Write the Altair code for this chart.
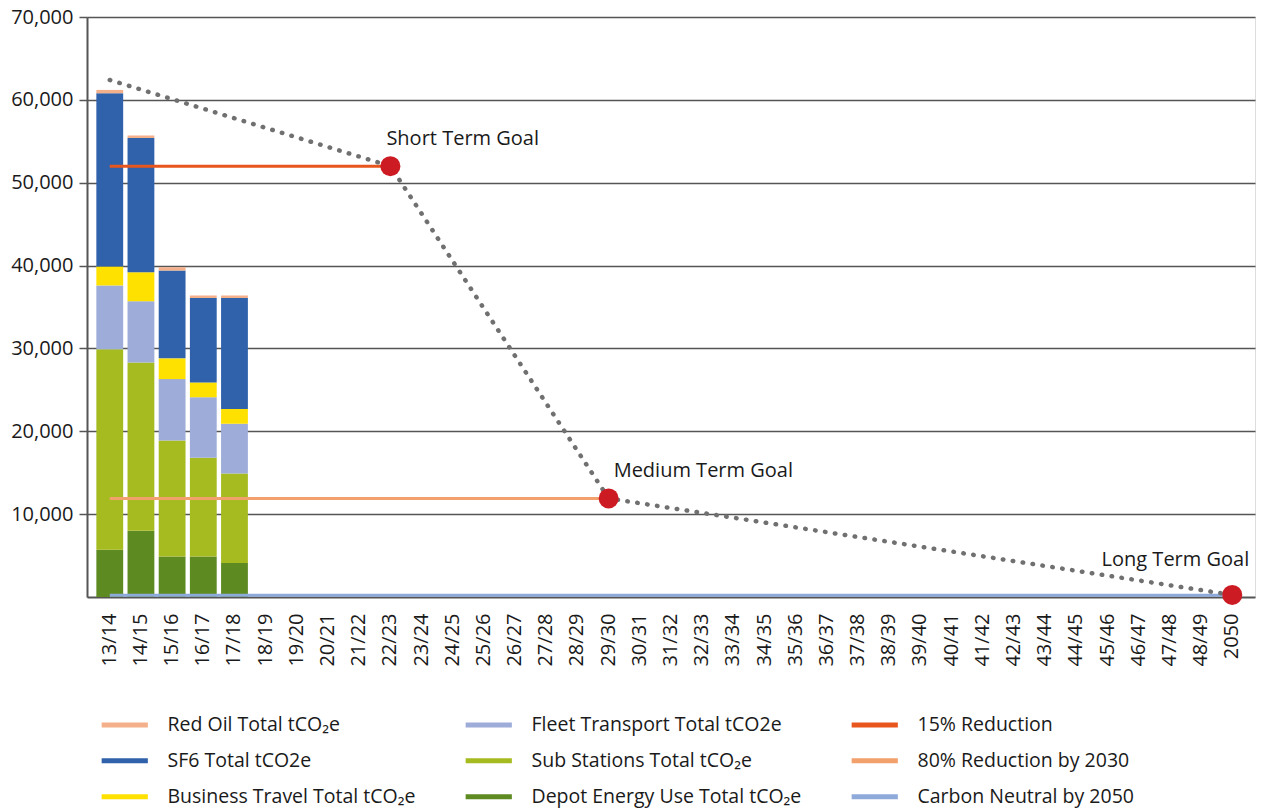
import altair as alt
import pandas as pd

# ---------------- data ----------------
categories = ["13/14", "14/15", "15/16", "16/17", "17/18", "18/19", "19/20", "20/21",
              "21/22", "22/23", "23/24", "24/25", "25/26", "26/27", "27/28", "28/29",
              "29/30", "30/31", "31/32", "32/33", "33/34", "34/35", "35/36", "36/37",
              "37/38", "38/39", "39/40", "40/41", "41/42", "42/43", "43/44", "44/45",
              "45/46", "46/47", "47/48", "48/49", "2050"]

bar_years = ["13/14", "14/15", "15/16", "16/17", "17/18"]
depot_energy = [5700, 8000, 4900, 4900, 4100]
sub_stations = [24200, 20300, 14000, 11900, 10800]
fleet_transport = [7700, 7400, 7400, 7300, 6000]
business_travel = [2300, 3500, 2500, 1800, 1800]
sf6 = [20900, 16200, 10600, 10200, 13400]
red_oil = [400, 300, 400, 300, 300]

# stacking order, bottom to top
bar_series = ["Depot Energy Use Total tCO\u2082e", "Sub Stations Total tCO\u2082e",
              "Fleet Transport Total tCO2e", "Business Travel Total tCO\u2082e",
              "SF6 Total tCO2e", "Red Oil Total tCO\u2082e"]
bar_values = [depot_energy, sub_stations, fleet_transport, business_travel, sf6, red_oil]

target_names = ["15% Reduction", "80% Reduction by 2030", "Carbon Neutral by 2050"]
target_levels = [52000, 11900, 200]
target_start = ["13/14", "13/14", "13/14"]
target_end = ["22/23", "29/30", "2050"]

trend_years = ["13/14", "22/23", "29/30", "2050"]
trend_values = [62400, 52000, 11900, 250]

goal_names = ["Short Term Goal", "Medium Term Goal", "Long Term Goal"]
goal_years = ["22/23", "29/30", "2050"]
goal_values = [52000, 11900, 250]

# legend (filled column by column in a 3-column grid)
legend_order = ["Red Oil Total tCO\u2082e", "SF6 Total tCO2e", "Business Travel Total tCO\u2082e",
                "Fleet Transport Total tCO2e", "Sub Stations Total tCO\u2082e",
                "Depot Energy Use Total tCO\u2082e",
                "15% Reduction", "80% Reduction by 2030", "Carbon Neutral by 2050"]
legend_colors = ["#F4B08A", "#2F62AB", "#FFE100",
                 "#9DACD8", "#A6BB1F", "#5E8A22",
                 "#E8561E", "#F2A06C", "#8DAADA"]

# ---------------- tables ----------------
bar_rows = []
for k, (name, vals) in enumerate(zip(bar_series, bar_values)):
    for yr, v in zip(bar_years, vals):
        bar_rows.append({"year": yr, "series": name, "value": v, "stack": k})
bars_df = pd.DataFrame(bar_rows)

target_rows = []
for name, lvl, s, e in zip(target_names, target_levels, target_start, target_end):
    target_rows.append({"year": s, "series": name, "value": lvl})
    target_rows.append({"year": e, "series": name, "value": lvl})
target_df = pd.DataFrame(target_rows)

trend_df = pd.DataFrame({"year": trend_years, "value": trend_values})
goal_df = pd.DataFrame({"year": goal_years, "value": goal_values, "goal": goal_names})

# ---------------- encodings ----------------
FONT = "Open Sans"
TXT = "#1a1a1a"
AX = "#555555"

x_scale = alt.Scale(domain=categories, paddingInner=0.14, paddingOuter=0.3)
x_axis = alt.Axis(title=None, labelAngle=270, labelFontSize=20, labelColor=TXT, labelFont=FONT,
                  ticks=False, domainColor=AX, domainWidth=2, labelPadding=16, grid=False)
y_scale = alt.Scale(domain=[0, 70000], nice=False)
y_axis = alt.Axis(title=None, values=[10000, 20000, 30000, 40000, 50000, 60000, 70000],
                  format=",.0f", labelFontSize=20, labelColor=TXT, labelFont=FONT,
                  grid=True, gridColor=AX, gridWidth=1.5, domainColor=AX, domainWidth=2,
                  tickColor=AX, tickSize=8, tickWidth=1.5, labelPadding=6)

X = alt.X("year:N", scale=x_scale, axis=x_axis, sort=categories)
Y = alt.Y("value:Q", scale=y_scale, axis=y_axis)

legend = alt.Legend(title=None, orient="none", legendX=28, legendY=698, columns=3,
                    columnPadding=39, rowPadding=15, symbolType="M-3.3,0H3.3",
                    symbolSize=196, symbolStrokeWidth=5, labelOffset=33,
                    labelFontSize=19.5, labelFont=FONT, labelColor=TXT, labelLimit=500,
                    padding=0)
color_scale = alt.Scale(domain=legend_order, range=legend_colors)
C = alt.Color("series:N", scale=color_scale, legend=legend)

bars = alt.Chart(bars_df).mark_bar().encode(
    x=X,
    y=alt.Y("value:Q", scale=y_scale, axis=y_axis, stack="zero"),
    color=C,
    order=alt.Order("stack:Q", sort="ascending"),
)

targets = alt.Chart(target_df).mark_line(strokeWidth=3).encode(x=X, y=Y, color=C)

trend = alt.Chart(trend_df).mark_line(color="#707070", strokeDash=[0.5, 9.5],
                                      strokeCap="round", strokeWidth=4.5).encode(x=X, y=Y)

circles = alt.Chart(goal_df).mark_circle(size=400, color="#CC1B23", opacity=1).encode(x=X, y=Y)

def goal_text(name, align, dx, dy):
    return alt.Chart(goal_df).transform_filter(alt.datum.goal == name).mark_text(
        align=align, dx=dx, dy=dy, fontSize=20, font=FONT, color=TXT
    ).encode(x=X, y=Y, text="goal:N")

chart = alt.layer(
    bars, targets, trend, circles,
    goal_text("Short Term Goal", "left", -4, -27),
    goal_text("Medium Term Goal", "left", 5, -27),
    goal_text("Long Term Goal", "right", 17, -35),
).properties(
    width=1168, height=580,
    autosize=alt.AutoSizeParams(type="none"),
    padding={"left": 87, "top": 17, "right": 13, "bottom": 213},
).configure_view(stroke=None).configure(font=FONT, background="white")

chart.save("out.html", embed_options={"renderer": "svg", "actions": False})
